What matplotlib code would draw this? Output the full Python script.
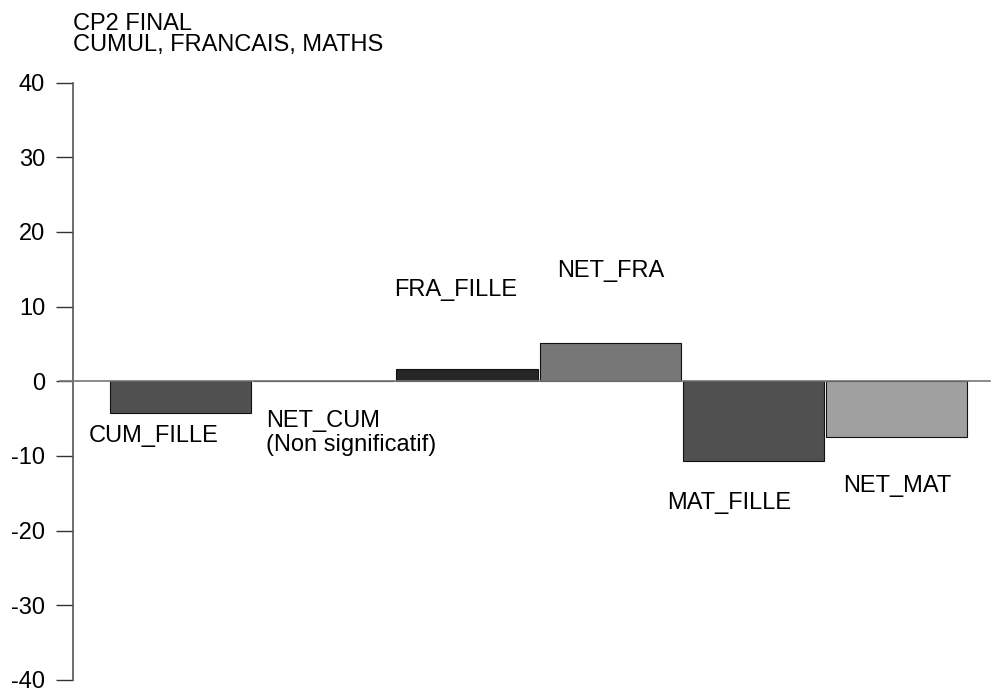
import matplotlib.pyplot as plt

plt.rcParams['font.family'] = ['Liberation Sans', 'DejaVu Sans']

title_lines = ["CP2 FINAL", "CUMUL, FRANCAIS, MATHS"]
categories = ["CUM_FILLE", "NET_CUM", "FRA_FILLE", "NET_FRA", "MAT_FILLE", "NET_MAT"]
values = [-4.2, 0.0, 1.6, 5.1, -10.7, -7.4]
bar_labels = ["CUM_FILLE", "NET_CUM\n(Non significatif)", "FRA_FILLE", "NET_FRA", "MAT_FILLE", "NET_MAT"]
colors = ['#505050', '#505050', '#262626', '#777777', '#505050', '#a0a0a0']
yticks = [-40, -30, -20, -10, 0, 10, 20, 30, 40]

# label placement (data units): x offset from bar centre, y position, alignment
label_pos = [(-0.19, -7.3, 'center'), (-0.40, -6.9, 'left'), (-0.08, 12.2, 'center'),
             (0.0, 14.7, 'center'), (-0.17, -16.3, 'center'), (0.0, -14.0, 'center')]

W, H = 992, 691
fig = plt.figure(figsize=(W / 100, H / 100), dpi=100)
ax = fig.add_axes([73 / W, (H - 680) / H, (990 - 73) / W, (680 - 82.5) / H])

x = list(range(len(categories)))
ax.bar(x, values, width=0.985, color=colors, edgecolor='#111111', linewidth=0.8, zorder=2)
ax.axhline(0, xmin=-13 / 917, xmax=1, color='#777777', linewidth=1.2, clip_on=False, zorder=3)

for i, (dx, yy, ha) in enumerate(label_pos):
    ax.text(x[i] + dx, yy, bar_labels[i], ha=ha, va='center', fontsize=17,
            linespacing=1.1, color='black')

ax.set_xlim(-0.75, 5.65)
ax.set_ylim(-40, 40)
ax.set_yticks(yticks)
ax.set_yticklabels([str(t) for t in yticks])
ax.tick_params(axis='y', direction='out', length=12, width=1, color='#333333',
               labelsize=17, pad=8)
ax.set_xticks([])
for s in ['top', 'right', 'bottom']:
    ax.spines[s].set_visible(False)
ax.spines['left'].set_color('#555555')
ax.spines['left'].set_linewidth(1.2)

fig.text(73 / W, 1 - 13 / H, title_lines[0], ha='left', va='top', fontsize=17)
fig.text(73 / W, 1 - 33.5 / H, title_lines[1], ha='left', va='top', fontsize=17)

fig.savefig('out.png', dpi=100)
